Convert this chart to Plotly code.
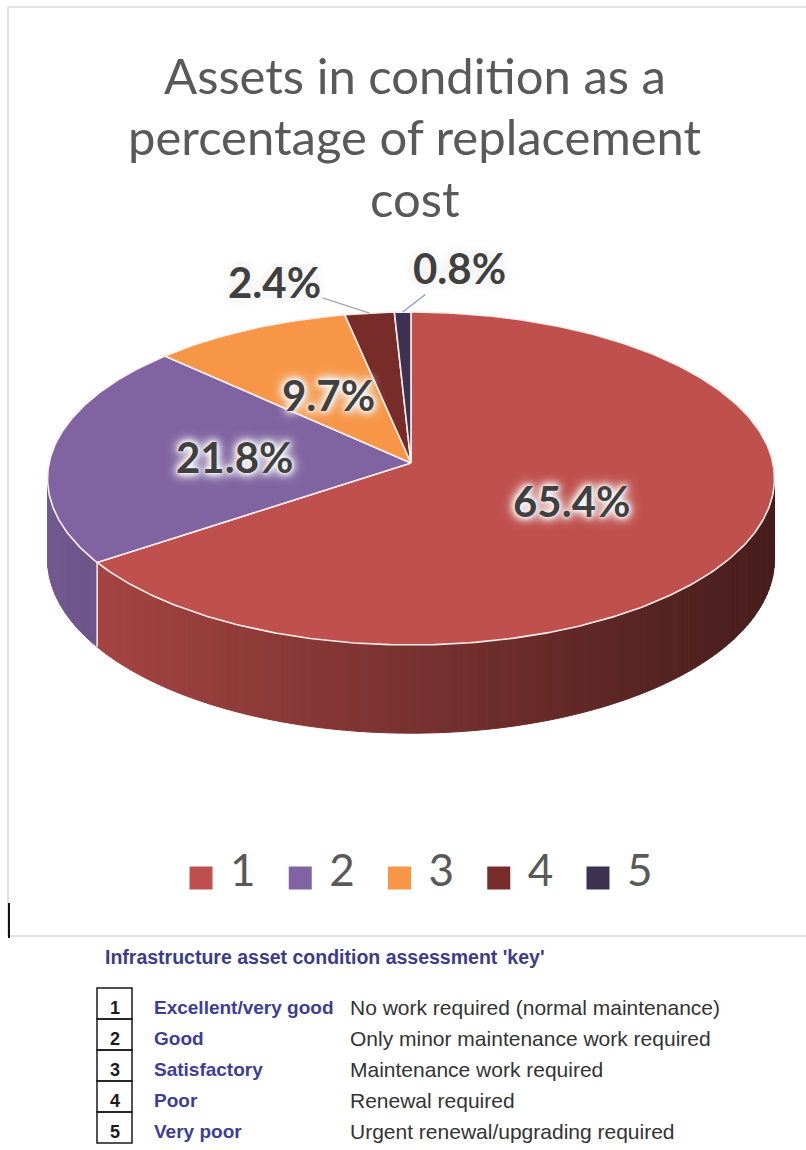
import numpy as np
import plotly.graph_objects as go

# ---------------- data ----------------
categories = ["1", "2", "3", "4", "5"]
shares = [65.4, 21.8, 9.7, 2.4, 0.8]
colors = ["#C0504D", "#8064A2", "#F79646", "#772C2A", "#3F3151"]
title_lines = ["Assets in condition as a", "percentage of replacement", "cost"]
key_title = "Infrastructure asset condition assessment 'key'"
key_labels = ["Excellent/very good", "Good", "Satisfactory", "Poor", "Very poor"]
key_desc = [
    "No work required (normal maintenance)",
    "Only minor maintenance work required",
    "Maintenance work required",
    "Renewal required",
    "Urgent renewal/upgrading required",
]

# ---------------- layout constants ----------------
W, H = 806, 1150
# perspective-projected 3D pie: apex (disk centre) on screen, scale, tilt, perspective
CX, CY, S, M, K, DEPTH = 411, 463, 361.9, 0.456, 0.0931, 80
LABEL_R = 0.49
OUTSIDE_OFFSETS = {3: (-95, -31), 4: (57, -44)}
LEADER_COLORS = {3: "#A6A6A6", 4: "#8A9CC8"}
LEG_X0, LEG_STEP, LEG_Y, LEG_TXT_DX = 201, 99.25, 878, 29
KEY_X_BOX0, KEY_X_BOX1, KEY_X_LAB, KEY_X_DESC = 97, 132, 152, 348
KEY_ROW0, KEY_ROWH = 988, 31


def hex2rgb(h):
    h = h.lstrip("#")
    return tuple(int(h[i:i + 2], 16) for i in (0, 2, 4))


def shade(h, f):
    r, g, b = hex2rgb(h)
    return "rgb(%d,%d,%d)" % (r * f, g * f, b * f)


def proj(t, r=1.0, down=False):
    """t = fraction of the turn, clockwise from 12 o'clock."""
    a = 2 * np.pi * np.asarray(t)
    u, v = r * np.sin(a), r * np.cos(a)
    w = 1 + K * v
    x = CX + S * u / w
    y = CY - S * M * v / w
    if down:
        y = y + DEPTH / w
    return x, y


total = sum(shares)
bounds = np.concatenate([[0.0], np.cumsum(shares) / total])

fig = go.Figure()

# ---------------- side of the cylinder (visible front part) ----------------
t_vis0 = np.arccos(-K) / (2 * np.pi)
t_vis1 = 1 - t_vis0
for i, col in enumerate(colors):
    t0, t1 = bounds[i], bounds[i + 1]
    a, b = max(t0, t_vis0), min(t1, t_vis1)
    if b <= a:
        continue
    n = max(2, int((b - a) / 0.004))
    edges = np.linspace(a, b, n + 1)
    for k in range(n):
        ts = np.linspace(edges[k], edges[k + 1], 4)
        xt, yt = proj(ts)
        xb, yb = proj(ts, down=True)
        xs = np.concatenate([xt, xb[::-1], xt[:1]])
        ys = np.concatenate([yt, yb[::-1], yt[:1]])
        xm = xt.mean()
        f = 0.63 - 0.26 * (xm - CX) / S
        c = shade(col, f)
        fig.add_trace(go.Scatter(
            x=xs, y=ys, mode="lines", fill="toself", fillcolor=c,
            line=dict(color=c, width=1), hoverinfo="skip", showlegend=False))

# slice boundaries on the side
for t in bounds:
    if t_vis0 < t < t_vis1:
        x0, y0 = proj(t)
        x1, y1 = proj(t, down=True)
        fig.add_trace(go.Scatter(x=[x0, x1], y=[y0, y1], mode="lines",
                                 line=dict(color="#F4E6E4", width=1.6),
                                 hoverinfo="skip", showlegend=False))

# ---------------- top face ----------------
for i, col in enumerate(colors):
    t0, t1 = bounds[i], bounds[i + 1]
    n = max(6, int((t1 - t0) * 500))
    xa, ya = proj(np.linspace(t0, t1, n))
    xs = np.concatenate([[CX], xa, [CX]])
    ys = np.concatenate([[CY], ya, [CY]])
    fig.add_trace(go.Scatter(
        x=xs, y=ys, mode="lines", fill="toself", fillcolor=col,
        line=dict(color="#FBEFEA", width=1.6), hoverinfo="skip",
        showlegend=False, name=categories[i]))

# ---------------- data labels ----------------
glow = ("0px 0px 3px #ffffff, 0px 0px 6px #ffffff, 0px 0px 9px #f4f4f4, "
        "0px 0px 12px #eeeeee, 0px 0px 14px #e8e8e8")
lab_font = dict(family="Lato", size=42, color="#404040", weight="bold", shadow=glow)
for i, v in enumerate(shares):
    tm = (bounds[i] + bounds[i + 1]) / 2
    txt = "%.1f%%" % v
    if i in OUTSIDE_OFFSETS:
        x, y = proj(tm)
        ax, ay = OUTSIDE_OFFSETS[i]
        fig.add_annotation(x=float(x), y=float(y), text=txt, showarrow=True, arrowhead=0,
                           arrowwidth=1.3, arrowcolor=LEADER_COLORS[i],
                           ax=ax, ay=ay, font=lab_font, xref="x", yref="y")
    else:
        x, y = proj(tm, r=LABEL_R)
        fig.add_annotation(x=float(x), y=float(y), text=txt, showarrow=False,
                           font=lab_font, xref="x", yref="y")

# ---------------- title ----------------
title_y = [75, 136, 198]
for line, yy in zip(title_lines, title_y):
    fig.add_annotation(x=415, y=yy, text=line, showarrow=False, xref="x", yref="y",
                       font=dict(family="Lato", size=49, color="#595959"))

# ---------------- legend row ----------------
leg_x = [LEG_X0 + i * LEG_STEP for i in range(len(categories))]
fig.add_trace(go.Scatter(
    x=leg_x, y=[LEG_Y] * len(categories), mode="markers",
    marker=dict(symbol="square", size=23, color=colors, line=dict(width=0)),
    hoverinfo="skip", showlegend=False))
fig.add_trace(go.Scatter(
    x=[x + LEG_TXT_DX for x in leg_x], y=[LEG_Y - 3] * len(categories),
    mode="text", text=categories, textposition="middle right",
    textfont=dict(family="Lato", size=44, color="#595959"),
    hoverinfo="skip", showlegend=False))

# ---------------- key table ----------------
fig.add_annotation(x=103, y=957, text="<b>%s</b>" % key_title, showarrow=False,
                   xanchor="left", xref="x", yref="y",
                   font=dict(family="Liberation Sans", size=19.5, color="#3B3B8E"))

for i in range(len(categories)):
    y0 = KEY_ROW0 + i * KEY_ROWH
    yc = y0 + KEY_ROWH / 2 + 4
    fig.add_shape(type="rect", x0=KEY_X_BOX0, x1=KEY_X_BOX1, y0=y0, y1=y0 + KEY_ROWH,
                  xref="x", yref="y", line=dict(color="#1a1a1a", width=1.5))
    fig.add_annotation(x=(KEY_X_BOX0 + KEY_X_BOX1) / 2, y=yc, text="<b>%s</b>" % categories[i],
                       showarrow=False, xref="x", yref="y",
                       font=dict(family="Liberation Sans", size=18, color="#1a1a1a"))
    fig.add_annotation(x=KEY_X_LAB, y=yc, text="<b>%s</b>" % key_labels[i],
                       showarrow=False, xanchor="left", xref="x", yref="y",
                       font=dict(family="Liberation Sans", size=19, color="#3D3D99"))
    fig.add_annotation(x=KEY_X_DESC, y=yc, text=key_desc[i],
                       showarrow=False, xanchor="left", xref="x", yref="y",
                       font=dict(family="Liberation Sans", size=21, color="#333333"))

# ---------------- frame ----------------
fig.add_shape(type="line", x0=8, y0=7, x1=W, y1=7, xref="x", yref="y",
              line=dict(color="#D9D9D9", width=1.5))
fig.add_shape(type="line", x0=8, y0=7, x1=8, y1=936, xref="x", yref="y",
              line=dict(color="#D9D9D9", width=1.5))
fig.add_shape(type="line", x0=8, y0=936, x1=W, y1=936, xref="x", yref="y",
              line=dict(color="#D9D9D9", width=1.5))
fig.add_shape(type="line", x0=9, y0=903, x1=9, y1=938, xref="x", yref="y",
              line=dict(color="#111111", width=2))

fig.update_layout(
    width=W, height=H, autosize=False,
    margin=dict(l=0, r=0, t=0, b=0),
    paper_bgcolor="white", plot_bgcolor="white",
    xaxis=dict(range=[0, W], domain=[0, 1], visible=False, fixedrange=True),
    yaxis=dict(range=[H, 0], domain=[0, 1], visible=False, fixedrange=True),
    showlegend=False,
)

fig.write_html("out.html", config={"displayModeBar": False},
               post_script="document.body.style.margin='0';")
